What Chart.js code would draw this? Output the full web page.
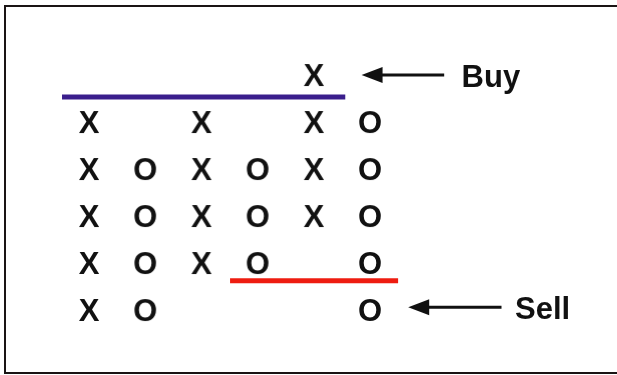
<!DOCTYPE html>
<html>
<head>
<meta charset="utf-8">
<script src="https://cdn.jsdelivr.net/npm/chart.js@4"></script>
<style>
  html, body { margin: 0; padding: 0; background: #fff; }
  #wrap { width: 617px; height: 375px; position: relative; }
</style>
</head>
<body>
<div id="wrap"><canvas id="pfChart"></canvas></div>
<script>
// Point & figure columns: column number and the boxes (rows) filled in it
const columns = [1, 2, 3, 4, 5, 6];
const columnKind = ['X', 'O', 'X', 'O', 'X', 'O'];
const columnRows = [
  [1, 2, 3, 4, 5],
  [1, 2, 3, 4],
  [2, 3, 4, 5],
  [2, 3, 4],
  [3, 4, 5, 6],
  [1, 2, 3, 4, 5]
];

// Breakout lines (x from, x to, level)
const buyLine = { x: [0.52, 5.56], y: 5.53 };
const sellLine = { x: [3.51, 6.5], y: 1.62 };

// Arrow annotations
const arrowLabels = ['Buy', 'Sell'];
const arrowTipX = [5.85, 6.68];
const arrowEndX = [7.32, 8.34];
const arrowY = [6.0, 1.06];
const labelX = [7.63, 8.58];

// Build the X and O point lists from the columns
const xPoints = [];
const oPoints = [];
columns.forEach(function(col, i) {
  columnRows[i].forEach(function(row) {
    (columnKind[i] === 'X' ? xPoints : oPoints).push({ x: col, y: row });
  });
});

// Glyph images for the point style
function makeGlyph(ch) {
  const c = document.createElement('canvas');
  c.width = 40;
  c.height = 40;
  const g = c.getContext('2d');
  g.fillStyle = '#111';
  g.font = 'bold 31px "Liberation Sans", Arial, sans-serif';
  g.textAlign = 'center';
  g.textBaseline = 'alphabetic';
  g.fillText(ch, 20, 20 + 11);
  return c;
}
const glyphX = makeGlyph('X');
const glyphO = makeGlyph('O');

// Frame, arrows and labels
const annotations = {
  id: 'annotations',
  beforeDraw: function(chart) {
    const ctx = chart.ctx;
    ctx.save();
    ctx.fillStyle = '#fff';
    ctx.fillRect(0, 0, chart.width, chart.height);
    ctx.strokeStyle = '#1a1414';
    ctx.lineWidth = 2;
    ctx.strokeRect(5, 6, chart.width + 10, 367);
    ctx.restore();
  },
  afterDatasetsDraw: function(chart) {
    const ctx = chart.ctx;
    const xs = chart.scales.x;
    const ys = chart.scales.y;
    ctx.save();
    arrowLabels.forEach(function(label, i) {
      const tip = xs.getPixelForValue(arrowTipX[i]);
      const end = xs.getPixelForValue(arrowEndX[i]);
      const y = ys.getPixelForValue(arrowY[i]);
      ctx.strokeStyle = '#111';
      ctx.fillStyle = '#111';
      ctx.lineWidth = 3;
      ctx.beginPath();
      ctx.moveTo(tip + 16, y);
      ctx.lineTo(end, y);
      ctx.stroke();
      ctx.beginPath();
      ctx.moveTo(tip, y);
      ctx.lineTo(tip + 21, y - 8);
      ctx.lineTo(tip + 21, y + 8);
      ctx.closePath();
      ctx.fill();
      ctx.font = 'bold 31px "Liberation Sans", Arial, sans-serif';
      ctx.textAlign = 'left';
      ctx.textBaseline = 'alphabetic';
      ctx.fillText(label, xs.getPixelForValue(labelX[i]), y + 12);
    });
    ctx.restore();
  }
};

const ctx = document.getElementById('pfChart').getContext('2d');
const pfChart = new Chart(ctx, {
  type: 'scatter',
  data: {
    datasets: [
      {
        label: 'X',
        data: xPoints,
        pointStyle: glyphX,
        pointRadius: 20,
        clip: false
      },
      {
        label: 'O',
        data: oPoints,
        pointStyle: glyphO,
        pointRadius: 20,
        clip: false
      },
      {
        label: 'Buy line',
        type: 'line',
        data: buyLine.x.map(function(x) { return { x: x, y: buyLine.y }; }),
        borderColor: '#3a1e8c',
        borderWidth: 5,
        pointRadius: 0,
        clip: false
      },
      {
        label: 'Sell line',
        type: 'line',
        data: sellLine.x.map(function(x) { return { x: x, y: sellLine.y }; }),
        borderColor: '#ee1c10',
        borderWidth: 5,
        pointRadius: 0,
        clip: false
      }
    ]
  },
  options: {
    responsive: true,
    maintainAspectRatio: false,
    animation: false,
    layout: { padding: 0, autoPadding: false },
    plugins: {
      legend: { display: false },
      tooltip: { enabled: false }
    },
    scales: {
      x: { type: 'linear', min: -0.5836, max: 10.395, display: false },
      y: { type: 'linear', min: -0.383, max: 7.596, display: false }
    }
  },
  plugins: [annotations]
});
</script>
</body>
</html>
